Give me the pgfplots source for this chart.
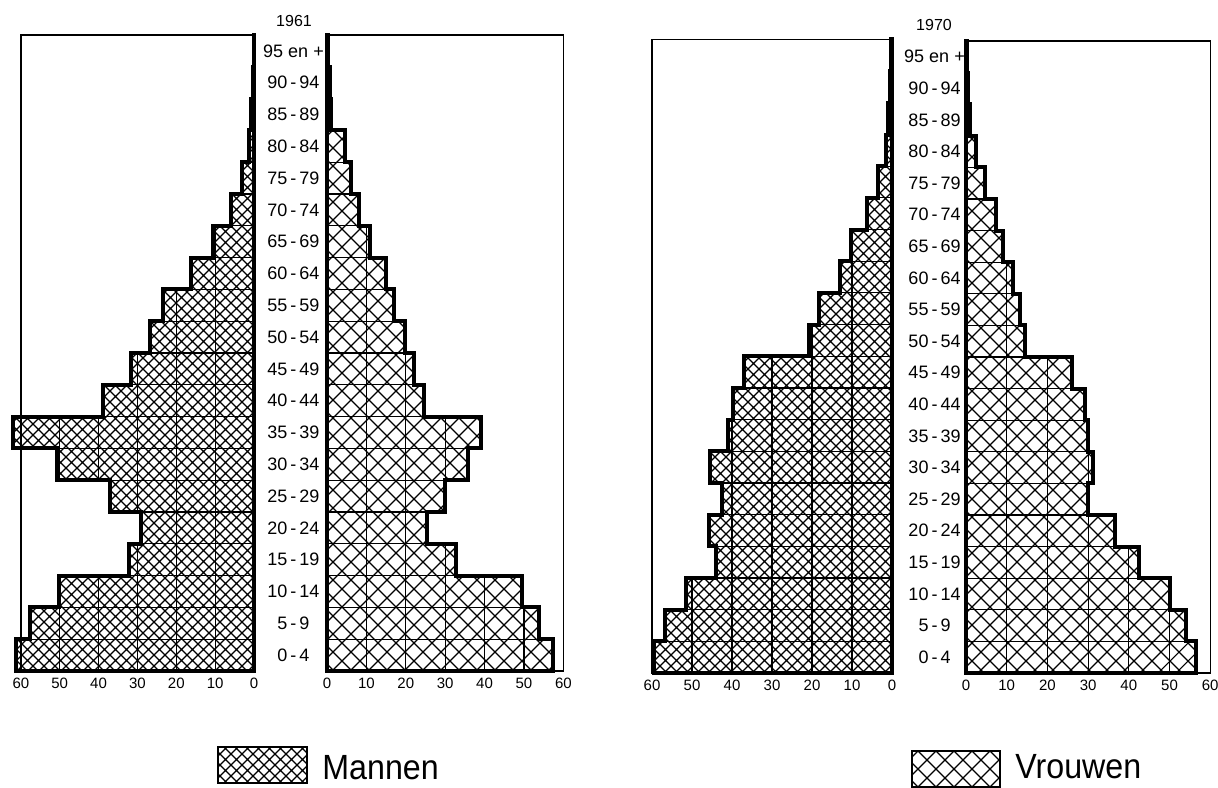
\documentclass[border=0pt]{standalone}
\usepackage{fontspec}
\setmainfont{Liberation Sans}
\usepackage{graphicx}
\usepackage{pgfplots}
\usepackage{pgfplotstable}
\pgfplotsset{compat=1.18}
\usetikzlibrary{patterns}

% diagonal cross hatching, fine for men, coarse for women
\pgfdeclarepatternformonly{menhatch}{\pgfqpoint{-1pt}{-1pt}}{\pgfqpoint{6.5pt}{6.5pt}}{\pgfqpoint{5.5pt}{5.5pt}}{%
  \pgfsetlinewidth{0.55pt}%
  \pgfpathmoveto{\pgfqpoint{0pt}{0pt}}\pgfpathlineto{\pgfqpoint{5.5pt}{5.5pt}}%
  \pgfpathmoveto{\pgfqpoint{0pt}{5.5pt}}\pgfpathlineto{\pgfqpoint{5.5pt}{0pt}}%
  \pgfusepath{stroke}}
\pgfdeclarepatternformonly{womhatch}{\pgfqpoint{-1pt}{-1pt}}{\pgfqpoint{10pt}{10pt}}{\pgfqpoint{9pt}{9pt}}{%
  \pgfsetlinewidth{0.55pt}%
  \pgfpathmoveto{\pgfqpoint{0pt}{0pt}}\pgfpathlineto{\pgfqpoint{9pt}{9pt}}%
  \pgfpathmoveto{\pgfqpoint{0pt}{9pt}}\pgfpathlineto{\pgfqpoint{9pt}{0pt}}%
  \pgfusepath{stroke}}

% y = lower edge of the age row (0 = 0-4 ... 19 = 95 en +), v = value
% first and last rows close the stair outline
\pgfplotstableread{
y v
0 0
0 61.3
1 57.6
2 50.2
3 32.1
4 29.2
5 37.0
6 50.7
7 62.1
8 38.8
9 31.7
10 26.8
11 23.5
12 16.3
13 10.6
14 5.9
15 3.2
16 1.3
17 0.7
18 0.3
19 0.1
20 0
}\menA
\pgfplotstableread{
y v
0 0
0 57.3
1 53.7
2 49.5
3 32.7
4 25.3
5 30.0
6 35.8
7 39.0
8 24.7
9 22.0
10 19.7
11 17.0
12 14.9
13 11.0
14 8.2
15 6.1
16 4.5
17 1.1
18 0.7
19 0.2
20 0
}\womA
\pgfplotstableread{
y v
0 0
0 59.4
1 56.8
2 51.6
3 44.1
4 45.8
5 42.6
6 45.5
7 41.0
8 39.8
9 36.9
10 20.7
11 18.2
12 13.0
13 10.2
14 6.2
15 3.4
16 1.5
17 0.9
18 0.4
19 0.2
20 0
}\menB
\pgfplotstableread{
y v
0 0
0 56.6
1 54.0
2 50.2
3 42.4
4 36.5
5 29.9
6 31.1
7 29.9
8 29.2
9 26.1
10 14.6
11 13.2
12 11.5
13 9.1
14 7.3
15 4.7
16 2.4
17 1.1
18 0.5
19 0.2
20 0
}\womB

\pgfplotsset{
  pyr/.style={
    scale only axis, enlargelimits=false, clip=false,
    xmin=0, xmax=63, ymin=0, ymax=20,
    xtick={0,10,...,60},
    ytick={0.5,1.5,...,19.5},
    minor ytick={1,2,...,19},
    xmajorgrids, yminorgrids, ymajorgrids=false,
    grid style={black, line width=0.6pt},
    minor grid style={black, line width=0.6pt},
    major tick length=0pt, minor tick length=0pt,
    axis line style={draw=none},
    xticklabel style={font=\fontsize{7.5}{9}\selectfont},
    /pgf/number format/assume math mode=true,
  },
  ages/.style={
    yticklabels={0\,-\,4,5\,-\,9,10\,-\,14,15\,-\,19,20\,-\,24,25\,-\,29,
      30\,-\,34,35\,-\,39,40\,-\,44,45\,-\,49,50\,-\,54,55\,-\,59,60\,-\,64,
      65\,-\,69,70\,-\,74,75\,-\,79,80\,-\,84,85\,-\,89,90\,-\,94,95 en +},
    yticklabel style={anchor=center, font=\fontsize{9}{10}\selectfont},
  },
}

% one half of a pyramid: hatched bars, white mask outside them, frame, outline
\newcommand{\half}[2]{%
  \addplot[xbar, bar width=1, bar shift=0pt, draw=none, pattern=#2,
      skip coords between index={0}{1}, skip coords between index={21}{22}]
    table[x=v, y expr=\thisrow{y}+0.5] {#1};
  \addplot[const plot mark right, fill=white, draw=none]
    table[x=v, y=y] {#1} -- (axis cs:63,20) -- (axis cs:63,0) -- cycle;
  \draw[line width=0.7pt] (axis cs:0,0) rectangle (axis cs:60,20);
  \addplot[const plot mark right, draw=black, line width=2pt, line join=miter]
    table[x=v, y=y] {#1} -- cycle;
}

\begin{document}
\begin{tikzpicture}
  % 1961
  \begin{axis}[pyr, x dir=reverse, yticklabels={},
      width=122.4pt, height=318pt, at={(127pt,58pt)}, anchor=south east]
    \half{\menA}{menhatch}
  \end{axis}
  \begin{axis}[pyr, ages, yticklabel style={xshift=-16.75pt},
      width=124.1pt, height=318pt, at={(163.5pt,58pt)}, anchor=south west]
    \half{\womA}{womhatch}
  \end{axis}
  % 1970
  \begin{axis}[pyr, x dir=reverse, yticklabels={},
      width=126pt, height=316.75pt, at={(446pt,57pt)}, anchor=south east]
    \half{\menB}{menhatch}
  \end{axis}
  \begin{axis}[pyr, ages, yticklabel style={xshift=-15.75pt},
      width=128.2pt, height=316pt, at={(483pt,57pt)}, anchor=south west]
    \half{\womB}{womhatch}
  \end{axis}

  \node[font=\fontsize{8}{9}\selectfont] at (147pt,383pt) {1961};
  \node[font=\fontsize{8}{9}\selectfont] at (467pt,381pt) {1970};

  % legend
  \draw[line width=1.3pt, pattern=menhatch] (109pt,2pt) rectangle (153.5pt,20pt);
  \node[anchor=base west, inner sep=0pt, font=\fontsize{17.5}{20}\selectfont]
    at (161pt,4pt) {\scalebox{0.92}[1]{Mannen}};
  \draw[line width=1.3pt, pattern=womhatch] (456pt,0pt) rectangle (500pt,18pt);
  \node[anchor=base west, inner sep=0pt, font=\fontsize{17.5}{20}\selectfont]
    at (507.5pt,4.5pt) {\scalebox{0.92}[1]{Vrouwen}};

  \pgfresetboundingbox
  \path[use as bounding box] (0,0) rectangle (609pt,393.5pt);
\end{tikzpicture}
\end{document}
